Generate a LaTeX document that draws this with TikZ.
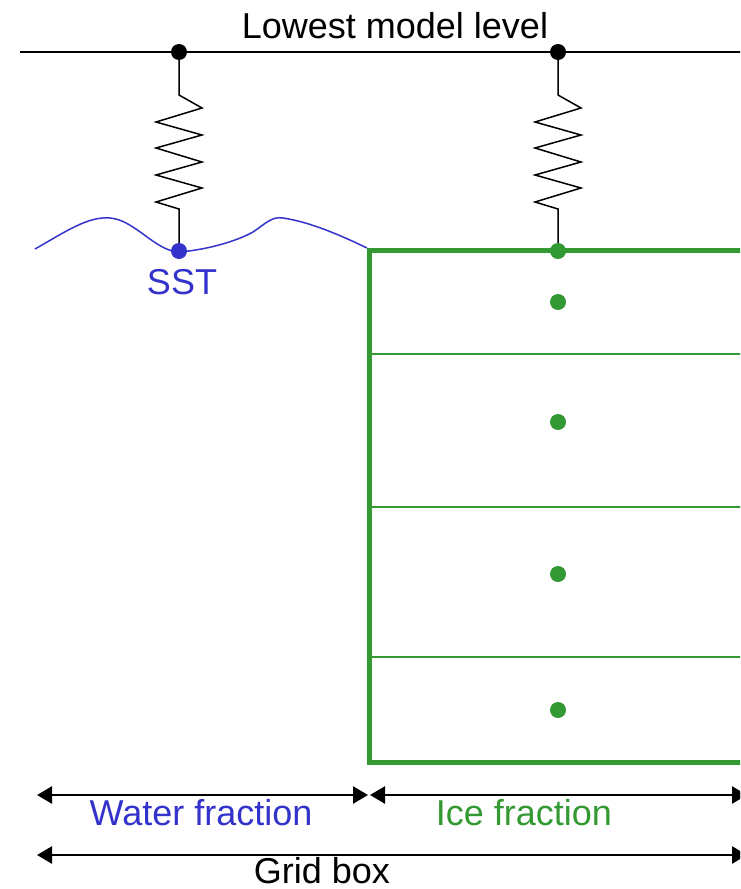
\documentclass[tikz,border=0pt]{standalone}
\usepackage{fontspec}
\setmainfont{Liberation Sans}
\usetikzlibrary{arrows.meta}
\definecolor{seablue}{RGB}{51,51,204}
\definecolor{icegreen}{RGB}{51,153,51}

\begin{document}
\begin{tikzpicture}[x=1pt, y=-1pt,
        dot/.style={circle, fill, inner sep=0pt, minimum size=16pt},
        spring/.style={line width=1.5pt},
        dimarrow/.style={line width=2.5pt, {Triangle[length=15pt,width=17pt]}-{Triangle[length=15pt,width=17pt]}},
        lbl/.style={font=\fontsize{36}{40}\selectfont, anchor=base, inner sep=0pt}]
    \useasboundingbox (0,0) rectangle (740,889);
    \clip (0,0) rectangle (740,889);

    % Lowest model level
    \coordinate (lvlW) at (20,52);
    \coordinate (lvlE) at (745,52);
    \draw[line width=2pt] (lvlW) -- (lvlE);
    \node[lbl] (lvl) at (395,38) {Lowest model level};
    \node[dot] (topL) at (179,52) {};
    \node[dot] (topR) at (558,52) {};

    % Ice slab with its layers
    \coordinate (boxNE) at (750,250);
    \coordinate (boxNW) at (369,250);
    \coordinate (boxSW) at (369,762);
    \coordinate (boxSE) at (750,762);
    \foreach \y in {354,507,657}
        \draw[icegreen, line width=1.5pt] (369,\y) -- (750,\y);
    \draw[icegreen, line width=5pt] (boxNE) -- (boxNW) -- (boxSW) -- (boxSE);
    \foreach \i/\y in {0/251, 1/302, 2/422, 3/574, 4/710}
        \node[dot, icegreen] (ice\i) at (558,\y) {};

    % Sea surface (wavy)
    \draw[seablue, line width=1.5pt]
        (35,249) .. controls (65,232) and (88,216) .. (110,218)
        .. controls (135,220) and (155,251) .. (179,252)
        .. controls (205,250) and (235,242) .. (253,232)
        .. controls (265,224) and (272,216) .. (283,218)
        .. controls (310,222) and (340,235) .. (367,248);
    \node[dot, seablue] (sst) at (179,251) {};
    \node[lbl, seablue] (sstlbl) at (182,294) {SST};

    % Resistances between model level and surface
    \foreach \n/\x/\e in {L/179/sst, R/558/ice0}
        \draw[spring] (top\n) -- (\x,95) -- (\x+23,108) -- (\x-23,122) -- (\x+23,135)
            -- (\x-23,148) -- (\x+23,162) -- (\x-23,175) -- (\x+23,188)
            -- (\x-23,202) -- (\x,209) -- (\e);

    % Fractions and grid box
    \coordinate (waterW) at (37,795);
    \coordinate (waterE) at (368,795);
    \coordinate (iceW) at (370,795);
    \coordinate (iceE) at (747,795);
    \coordinate (gridW) at (37,855);
    \coordinate (gridE) at (747,855);
    \draw[dimarrow] (waterW) -- (waterE);
    \draw[dimarrow] (iceW) -- (iceE);
    \draw[dimarrow] (gridW) -- (gridE);
    \node[lbl, seablue] (waterlbl) at (201,825) {Water fraction};
    \node[lbl, icegreen] (icelbl) at (524,825) {Ice fraction};
    \node[lbl] (gridlbl) at (322,883) {Grid box};

\end{tikzpicture}
\end{document}
